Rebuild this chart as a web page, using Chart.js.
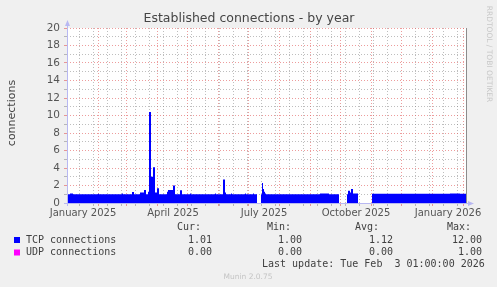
<!DOCTYPE html>
<html>
<head>
<meta charset="utf-8">
<script src="https://cdn.jsdelivr.net/npm/chart.js@4"></script>
<style>
  html, body { margin: 0; padding: 0; background: #f0f0f0; }
  canvas { display: block; }
</style>
</head>
<body>
<canvas id="connChart" width="497" height="287"></canvas>
<script>
// x values are days counted from 1 January 2025 (one pixel per day in the original)
// each value holds until the next day in the list; a null value starts a gap with no data
const tcpDays = [
  0, 3, 6, 31, 32, 55, 56, 65, 67, 73, 77, 79,
  81, 82, 84, 86, 88, 90, 92,
  100, 101, 106, 108, 113, 115, 123, 124,
  148, 149, 156, 158, 159, 164, 165, 178, 179, 186, 187,
  190, 190, 194, 195, 196, 197, 198, 199,
  253, 262, 272, 272, 280, 281, 283, 284, 286, 291, 291,
  305, 383, 393, 399
];
const tcpValues = [
  1.0, 1.1, 1.0, 1.05, 1.0, 1.1, 1.0, 1.25, 1.0, 1.2, 1.5, 1.0,
  1.3, 10.4, 3.0, 4.1, 1.2, 1.7, 1.0,
  1.3, 1.5, 2.0, 1.0, 1.45, 1.0, 1.1, 1.0,
  1.1, 1.0, 2.7, 1.2, 1.0, 1.1, 1.0, 1.1, 1.0, 1.1, 1.0,
  1.0, null, 1.0, 2.3, 1.6, 1.3, 1.1, 1.0,
  1.1, 1.0, 1.0, null, 1.0, 1.4, 1.2, 1.6, 1.1, 1.1, null,
  1.05, 1.1, 1.05, 1.05
];
const udpDays = [0, 190, 190, 194, 272, 272, 280, 291, 291, 305, 399];
const udpValues = [0, 0, null, 0, 0, null, 0, 0, null, 0, 0];

const tickDays = [0, 90, 181, 273, 365];
const tickLabels = ['January 2025', 'April 2025', 'July 2025', 'October 2025', 'January 2026'];
const monthDays = [0, 31, 59, 90, 120, 151, 181, 212, 243, 273, 304, 334, 365, 396];
const weekGridDays = [12, 26, 40, 54, 68, 82, 96, 110, 124, 138, 152, 166, 180, 194,
  208, 222, 236, 250, 264, 278, 292, 306, 320, 334, 348, 362, 376, 390];

const seriesNames = ['TCP connections', 'UDP connections'];
const seriesColors = ['#0000ff', '#ff00ff'];
const curValues = ['1.01', '0.00'];
const minValues = ['1.00', '0.00'];
const avgValues = ['1.12', '0.00'];
const maxValues = ['12.00', '1.00'];

const majorGrid = 'rgba(225, 90, 90, 0.6)';
const minorGrid = 'rgba(125, 125, 125, 0.5)';

const toPoints = (xs, ys) => xs.map((x, i) => ({ x: x, y: ys[i] }));

const muninDecor = {
  id: 'muninDecor',
  beforeDraw(chart) {
    const { ctx, chartArea: a } = chart;
    ctx.save();
    ctx.fillStyle = '#f0f0f0';
    ctx.fillRect(0, 0, chart.width, chart.height);
    ctx.fillStyle = '#ffffff';
    ctx.fillRect(a.left, a.top, a.right - a.left, a.bottom - a.top);
    ctx.restore();
  },
  afterDatasetsDraw(chart) {
    const { ctx, chartArea: a } = chart;
    ctx.save();

    // right edge line
    ctx.strokeStyle = '#8c8c8c';
    ctx.lineWidth = 1;
    ctx.beginPath();
    ctx.moveTo(a.right + 0.5, a.top);
    ctx.lineTo(a.right + 0.5, a.bottom);
    ctx.stroke();

    // axes with arrows
    ctx.strokeStyle = '#b8b8f2';
    ctx.fillStyle = '#b8b8f2';
    ctx.beginPath();
    ctx.moveTo(a.left + 0.5, a.bottom + 3);
    ctx.lineTo(a.left + 0.5, a.top - 3);
    ctx.moveTo(a.left - 3, a.bottom + 0.5);
    ctx.lineTo(a.right + 3, a.bottom + 0.5);
    ctx.stroke();
    ctx.beginPath();
    ctx.moveTo(a.left - 2, a.top - 2);
    ctx.lineTo(a.left + 3, a.top - 2);
    ctx.lineTo(a.left + 0.5, a.top - 8);
    ctx.fill();
    ctx.beginPath();
    ctx.moveTo(a.right + 2, a.bottom - 2);
    ctx.lineTo(a.right + 2, a.bottom + 3);
    ctx.lineTo(a.right + 8, a.bottom + 0.5);
    ctx.fill();

    // title
    ctx.fillStyle = '#454545';
    ctx.font = '12.5px "DejaVu Sans"';
    ctx.textAlign = 'center';
    ctx.textBaseline = 'middle';
    ctx.fillText('Established connections - by year', 249, 19);

    // y axis title
    ctx.save();
    ctx.translate(12, 113);
    ctx.rotate(-Math.PI / 2);
    ctx.font = '11px "DejaVu Sans"';
    ctx.fillText('connections', 0, 0);
    ctx.restore();

    // rrdtool credit
    ctx.save();
    ctx.translate(488.5, 54);
    ctx.rotate(Math.PI / 2);
    ctx.fillStyle = '#c8c8c8';
    ctx.font = '7.5px "DejaVu Sans"';
    ctx.fillText('RRDTOOL / TOBI OETIKER', 0, 0);
    ctx.restore();

    // legend table
    ctx.font = '10px "DejaVu Sans Mono"';
    ctx.fillStyle = '#404040';
    ctx.textAlign = 'left';
    ctx.fillText('Cur:', 177, 227);
    ctx.fillText('Min:', 267, 227);
    ctx.fillText('Avg:', 355, 227);
    ctx.fillText('Max:', 447, 227);
    seriesNames.forEach((name, i) => {
      const y = 240 + i * 12.5;
      ctx.fillStyle = seriesColors[i];
      ctx.fillRect(14, y - 3, 6, 6);
      ctx.fillStyle = '#404040';
      ctx.textAlign = 'left';
      ctx.fillText(name, 26, y);
      ctx.textAlign = 'right';
      ctx.fillText(curValues[i], 212, y);
      ctx.fillText(minValues[i], 302, y);
      ctx.fillText(avgValues[i], 393, y);
      ctx.fillText(maxValues[i], 482, y);
    });
    ctx.textAlign = 'left';
    ctx.fillText('Last update: Tue Feb  3 01:00:00 2026', 262, 264.5);

    ctx.fillStyle = '#c4c4c4';
    ctx.font = '7.5px "DejaVu Sans"';
    ctx.textAlign = 'center';
    ctx.fillText('Munin 2.0.75', 248, 277);
    ctx.restore();
  }
};

Chart.defaults.font.family = '"DejaVu Sans"';

new Chart(document.getElementById('connChart'), {
  type: 'line',
  data: {
    datasets: [
      {
        label: seriesNames[0],
        data: toPoints(tcpDays, tcpValues),
        stepped: 'before',
        fill: 'origin',
        backgroundColor: seriesColors[0],
        borderColor: 'rgba(0,0,0,0)',
        borderWidth: 1,
        pointRadius: 0,
        spanGaps: false
      },
      {
        label: seriesNames[1],
        data: toPoints(udpDays, udpValues),
        stepped: 'before',
        fill: false,
        borderColor: seriesColors[1],
        borderWidth: 1,
        pointRadius: 0,
        spanGaps: false
      }
    ]
  },
  options: {
    responsive: false,
    animation: false,
    layout: { padding: { left: 0, right: 31, top: 28, bottom: 64 } },
    plugins: {
      legend: { display: false },
      title: { display: false },
      tooltip: { enabled: false }
    },
    scales: {
      x: {
        type: 'linear',
        min: 0,
        max: 399,
        afterFit: scale => { scale.height = 20; },
        afterBuildTicks: scale => {
          scale.ticks = monthDays.concat(weekGridDays)
            .filter((v, i, arr) => arr.indexOf(v) === i)
            .sort((p, q) => p - q)
            .map(v => ({ value: v }));
        },
        grid: {
          color: c => (c.tick && monthDays.includes(c.tick.value)) ? majorGrid : minorGrid,
          drawTicks: true,
          tickLength: 3
        },
        border: { display: false, dash: [1, 2] },
        ticks: {
          autoSkip: false,
          maxRotation: 0,
          minRotation: 0,
          padding: 1,
          labelOffset: 16,
          color: '#555',
          font: { size: 10 },
          callback: v => {
            const k = tickDays.indexOf(v);
            return k >= 0 ? tickLabels[k] : '';
          }
        }
      },
      y: {
        min: 0,
        max: 20,
        afterFit: scale => { scale.width = 67; },
        grid: {
          color: c => (c.tick && c.tick.value % 2 === 0) ? majorGrid : minorGrid,
          drawTicks: true,
          tickLength: 3
        },
        border: { display: false, dash: [1, 2] },
        ticks: {
          stepSize: 1,
          autoSkip: false,
          padding: 4,
          color: '#555',
          font: { size: 10.5 },
          callback: v => (v % 2 === 0 ? v : '')
        }
      }
    }
  },
  plugins: [muninDecor]
});
</script>
</body>
</html>
